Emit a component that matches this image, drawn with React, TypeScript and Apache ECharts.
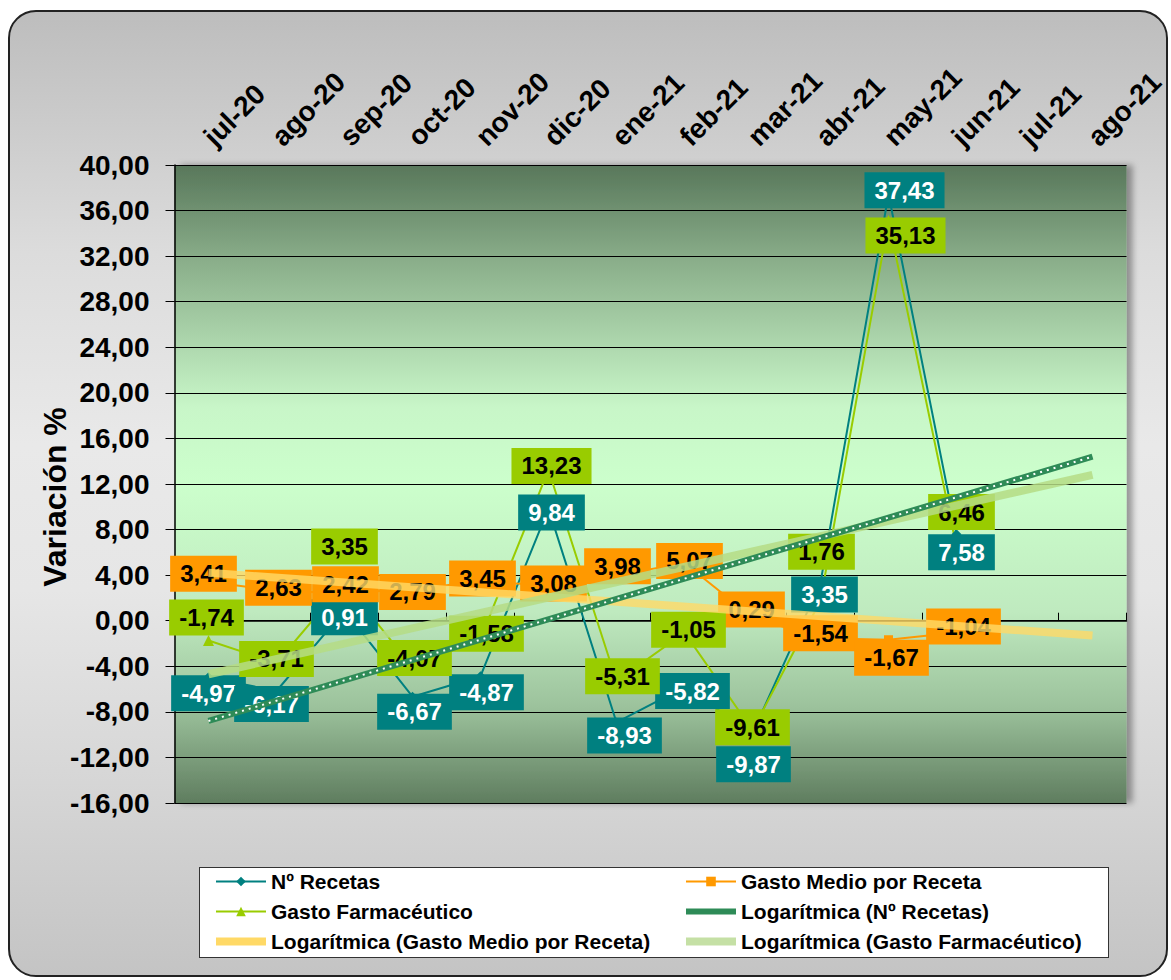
import React, { useEffect, useRef } from 'react';
import * as echarts from 'echarts';

// ---- data ----
const categories = ['jul-20', 'ago-20', 'sep-20', 'oct-20', 'nov-20', 'dic-20', 'ene-21', 'feb-21', 'mar-21', 'abr-21', 'may-21', 'jun-21', 'jul-21', 'ago-21'];
const recetas = [-4.97, -6.17, 0.91, -6.67, -4.87, 9.84, -8.93, -5.82, -9.87, 3.35, 37.43, 7.58];
const gastoMedio = [3.41, 2.63, 2.42, 2.79, 3.45, 3.08, 3.98, 5.07, 0.29, -1.54, -1.67, -1.04];
const gastoFarma = [-1.74, -3.71, 3.35, -4.07, -1.58, 13.23, -5.31, -1.05, -9.61, 1.76, 35.13, 6.46];
// trendline end values (first and last category)
const trendCats = ['jul-20', 'ago-21'];
const trendRecetas = [-8.8, 14.4];
const trendGastoMedio = [4.2, -1.3];
const trendFarma = [-4.7, 12.8];

// ---- label placement (style) ----
const recetasOffsets = [[0, 16], [-5, 13], [0, 7], [2, 15], [6, 16], [3, 4], [8, 13], [8, 4], [1, 31], [4, 12], [16, -4], [5, 18]];
const gastoMedioOffsets = [[-5, -8], [2, -3], [1, -9], [0, 3], [2, -3], [5, -2], [1, -9], [5, -2], [-1, -8], [0, -5], [3, 18], [7, -6]];
const farmaOffsets = [[-2, -23], [0, -4], [0, -36], [2, -9], [6, -5], [3, -4], [6, -5], [4, -3], [0, -3], [1, -49], [17, 15], [5, -35]];

const FONT = '"Liberation Sans", Arial, Helvetica, sans-serif';
const TEAL = '#008080';
const ORANGE = '#FF9900';
const GREEN = '#99CC00';
const TREND_REC = '#2E8B57';
const TREND_GM = '#FFD966';
const TREND_GF = '#B5DC85';

const fmt = (v: number) => v.toFixed(2).replace('.', ',');

const buildData = (vals: number[], offs: number[][]) =>
  vals.map((v, i) => ({ value: v, label: { offset: offs[i] } }));

const mainLabel = (bg: string, fg: string) => ({
  show: true,
  position: 'inside',
  backgroundColor: bg,
  color: fg,
  fontFamily: FONT,
  fontWeight: 'bold',
  fontSize: 24,
  padding: [6, 10, 6, 10],
  formatter: (p: any) => fmt(p.value as number),
});

const barIcon = 'path://M0,0 L50,0 L50,8 L0,8 Z';

export default function App() {
  const ref = useRef<HTMLDivElement>(null);

  useEffect(() => {
    document.body.style.margin = '0';
    const chart = echarts.init(ref.current!, null, { renderer: 'svg' });
    const pair = (vals: number[]) => trendCats.map((c, i) => [c, vals[i]]);
    const legendText = { color: '#000', fontFamily: FONT, fontWeight: 'bold', fontSize: 21 };
    const option: any = {
      animation: false,
      backgroundColor: 'transparent',
      textStyle: { fontFamily: FONT },
      grid: {
        left: 174.5,
        right: 44.5,
        top: 165,
        bottom: 177,
        show: true,
        borderWidth: 0,
        backgroundColor: new echarts.graphic.LinearGradient(0, 0, 0, 1, [
          { offset: 0, color: '#58775a' },
          { offset: 0.15, color: '#8aae8a' },
          { offset: 0.38, color: '#c8f6c8' },
          { offset: 0.5, color: '#ccffcc' },
          { offset: 0.7, color: '#bfeabf' },
          { offset: 0.85, color: '#9cc29c' },
          { offset: 1, color: '#5f7d5f' },
        ]),
        shadowColor: 'rgba(0,0,0,0.35)',
        shadowBlur: 6,
        shadowOffsetX: 6,
      },
      xAxis: {
        type: 'category',
        position: 'top',
        data: categories,
        boundaryGap: true,
        axisLine: { show: true, lineStyle: { color: '#000', width: 1.5 } },
        axisTick: { show: true, interval: 0, length: 8, lineStyle: { color: '#000', width: 1 } },
        axisLabel: {
          interval: 0,
          rotate: 45,
          margin: 24,
          color: '#000',
          fontFamily: FONT,
          fontWeight: 'bold',
          fontSize: 28,
        },
        splitLine: { show: false },
      },
      yAxis: {
        type: 'value',
        min: -16,
        max: 40,
        interval: 4,
        axisLine: { show: true, lineStyle: { color: '#000', width: 1.5 } },
        axisTick: { show: true, length: 9, lineStyle: { color: '#000', width: 1 } },
        axisLabel: {
          margin: 25,
          color: '#000',
          fontFamily: FONT,
          fontWeight: 'bold',
          fontSize: 28,
          formatter: (v: number) => fmt(v),
        },
        splitLine: { show: true, lineStyle: { color: '#000', width: 1 } },
      },
      graphic: [
        {
          type: 'text',
          x: 55,
          y: 497,
          rotation: Math.PI / 2,
          style: {
            text: 'Variación %',
            fill: '#000',
            font: `bold 32px ${FONT}`,
            align: 'center',
            verticalAlign: 'middle',
          },
        },
      ],
      legend: [
        {
          orient: 'vertical',
          left: 215,
          top: 871,
          padding: 0,
          itemGap: 9,
          itemWidth: 50,
          itemHeight: 12,
          textStyle: legendText,
          data: [
            { name: 'Nº Recetas' },
            { name: 'Gasto Farmacéutico' },
            { name: 'Logarítmica (Gasto Medio por Receta)', icon: barIcon, itemStyle: { color: TREND_GM } },
          ],
        },
        {
          orient: 'vertical',
          left: 685,
          top: 871,
          padding: 0,
          itemGap: 9,
          itemWidth: 50,
          itemHeight: 12,
          textStyle: legendText,
          data: [
            { name: 'Gasto Medio por Receta' },
            { name: 'Logarítmica (Nº Recetas)', icon: 'path://M0,0 L50,0 L50,6 L0,6 Z', itemStyle: { color: TREND_REC } },
            { name: 'Logarítmica (Gasto Farmacéutico)', icon: barIcon, itemStyle: { color: '#C5E0A5' } },
          ],
        },
      ],
      series: [
        {
          name: 'Nº Recetas',
          type: 'line',
          data: buildData(recetas, recetasOffsets),
          color: TEAL,
          symbol: 'diamond',
          symbolSize: 10,
          lineStyle: { width: 2, color: TEAL },
          itemStyle: { color: TEAL },
          label: mainLabel(TEAL, '#fff'),
          z: 2,
        },
        {
          name: 'Gasto Medio por Receta',
          type: 'line',
          data: buildData(gastoMedio, gastoMedioOffsets),
          color: ORANGE,
          symbol: 'rect',
          symbolSize: 9,
          lineStyle: { width: 2, color: ORANGE },
          itemStyle: { color: ORANGE },
          label: mainLabel(ORANGE, '#000'),
          z: 2,
        },
        {
          name: 'Gasto Farmacéutico',
          type: 'line',
          data: buildData(gastoFarma, farmaOffsets),
          color: GREEN,
          symbol: 'triangle',
          symbolSize: 11,
          lineStyle: { width: 2, color: GREEN },
          itemStyle: { color: GREEN },
          label: mainLabel(GREEN, '#000'),
          z: 2,
        },
        {
          name: 'Logarítmica (Nº Recetas)',
          type: 'line',
          data: pair(trendRecetas),
          color: TREND_REC,
          symbol: 'none',
          lineStyle: { width: 6, color: TREND_REC },
          z: 6,
          silent: true,
        },
        {
          name: '_dots',
          type: 'line',
          data: pair(trendRecetas),
          symbol: 'none',
          lineStyle: { width: 2, color: '#ffffff', type: [2, 5] },
          z: 7,
          silent: true,
        },
        {
          name: 'Logarítmica (Gasto Medio por Receta)',
          type: 'line',
          data: pair(trendGastoMedio),
          color: TREND_GM,
          symbol: 'none',
          lineStyle: { width: 8, color: TREND_GM, opacity: 0.8 },
          z: 5,
          silent: true,
        },
        {
          name: 'Logarítmica (Gasto Farmacéutico)',
          type: 'line',
          data: pair(trendFarma),
          color: TREND_GF,
          symbol: 'none',
          lineStyle: { width: 8, color: TREND_GF, opacity: 0.85 },
          z: 5,
          silent: true,
        },
      ],
    };
    chart.setOption(option);
    return () => chart.dispose();
  }, []);

  return (
    <div style={{ position: 'fixed', left: 0, top: 0, width: 1171, height: 980, overflow: 'hidden', background: '#fff' }}>
      <div
        style={{
          position: 'absolute',
          left: 8,
          top: 10,
          width: 1160,
          height: 967,
          boxSizing: 'border-box',
          border: '2px solid #222',
          borderRadius: 28,
          background: 'linear-gradient(to bottom, #bdbdbd 0%, #dcdcdc 25%, #e9e9e9 45%, #e6e6e6 60%, #d6d6d6 80%, #c4c4c4 100%)',
        }}
      />
      <div
        style={{
          position: 'absolute',
          left: 199,
          top: 867,
          width: 910,
          height: 91,
          boxSizing: 'border-box',
          border: '1.5px solid #333',
          background: '#fff',
        }}
      />
      <div ref={ref} style={{ position: 'absolute', left: 0, top: 0, width: 1171, height: 980 }} />
    </div>
  );
}
